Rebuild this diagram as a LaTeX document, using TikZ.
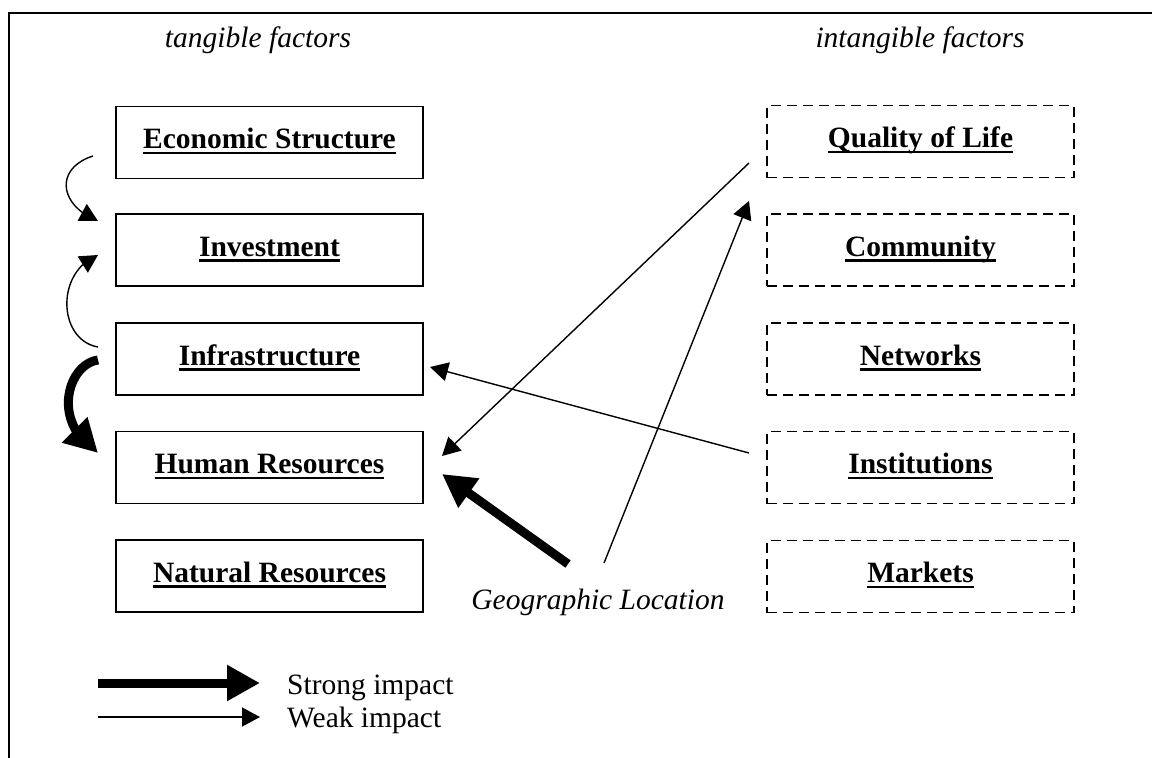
\documentclass[tikz,border=0pt]{standalone}
\usepackage{fontspec}
\setmainfont{Liberation Serif}
\usetikzlibrary{arrows.meta,bending}
\newcommand{\ulx}[1]{\sbox0{#1}\rlap{\rule[-5.5pt]{\wd0}{2.5pt}}\usebox0}
\begin{document}
\begin{tikzpicture}[x=1pt,y=-1pt,
  box/.style={draw, line width=1.4pt, minimum width=307pt, minimum height=72pt, inner sep=0pt,
    font=\fontsize{29.5}{35}\selectfont\bfseries, text height=20pt, text depth=8pt},
  dbox/.style={box, dash pattern=on 10pt off 6pt},
  lbl/.style={font=\fontsize{29.5}{35}\selectfont\itshape, inner sep=0pt},
  leg/.style={font=\fontsize{29.5}{35}\selectfont, inner sep=0pt, anchor=base west},
  thin/.style={line width=1.4pt, -{Triangle[length=18pt,width=19pt]}},
  thick/.style={line width=9pt, -{Triangle[length=33pt,width=34pt]}}]
\useasboundingbox (0,0) rectangle (1152,758);
% frame
\draw[line width=2pt] (9,758) -- (9,13) -- (1152,13);
% titles
\node[lbl] (tt) at (258,40) {tangible factors};
\node[lbl] (it) at (920,40) {intangible factors};
% left boxes
\node[box] (econ) at (269.5,142.5) {\ulx{Economic Structure}};
\node[box] (inv)  at (269.5,250) {\ulx{Investment}};
\node[box] (infra) at (269.5,359) {\ulx{Infrastructure}};
\node[box] (hr) at (269.5,467.5) {\ulx{Human Resources}};
\node[box] (nr) at (269.5,576) {\ulx{Natural Resources}};
% right boxes
\node[dbox] (qol) at (920.5,141.5) {\ulx{Quality of Life}};
\node[dbox] (com) at (920.5,250) {\ulx{Community}};
\node[dbox] (net) at (920.5,359) {\ulx{Networks}};
\node[dbox] (ins) at (920.5,467.5) {\ulx{Institutions}};
\node[dbox] (mkt) at (920.5,576.5) {\ulx{Markets}};
% geographic location
\node[lbl] (geo) at (598,602) {Geographic Location};
% named coordinates for free ends
\coordinate (c1s) at (93,156);
\coordinate (c1e) at (98,221);
\coordinate (c2s) at (98,347);
\coordinate (c2e) at (98,255);
\coordinate (c3s) at (98,360);
\coordinate (c3e) at (98,453);
\coordinate (qs) at (749,163);
\coordinate (qe) at (442,456);
\coordinate (gs) at (604,563);
\coordinate (ge) at (749,201);
\coordinate (is) at (749,453);
\coordinate (ie) at (430,367);
\coordinate (hs) at (568,564);
\coordinate (he) at (442,474);
% curved arrows on the left
\draw[thin] (c1s) .. controls (55,168) and (58,205) .. (c1e);
\draw[thin] (c2s) .. controls (58,340) and (55,272) .. (c2e);
\draw[thick] (c3s) .. controls (68,364) and (50,422) .. (c3e);
% straight arrows
\draw[thin] (qs) -- (qe);
\draw[thin] (gs) -- (ge);
\draw[thin] (is) -- (ie);
\draw[thick] (hs) -- (he);
% legend
\coordinate (l1s) at (98,683);
\coordinate (l1e) at (260,683);
\coordinate (l2s) at (98,717);
\coordinate (l2e) at (260,717);
\draw[thick] (l1s) -- (l1e);
\draw[thin] (l2s) -- (l2e);
\node[leg] (ls) at (287,694) {Strong impact};
\node[leg] (lw) at (287,727) {Weak impact};
\end{tikzpicture}
\end{document}
